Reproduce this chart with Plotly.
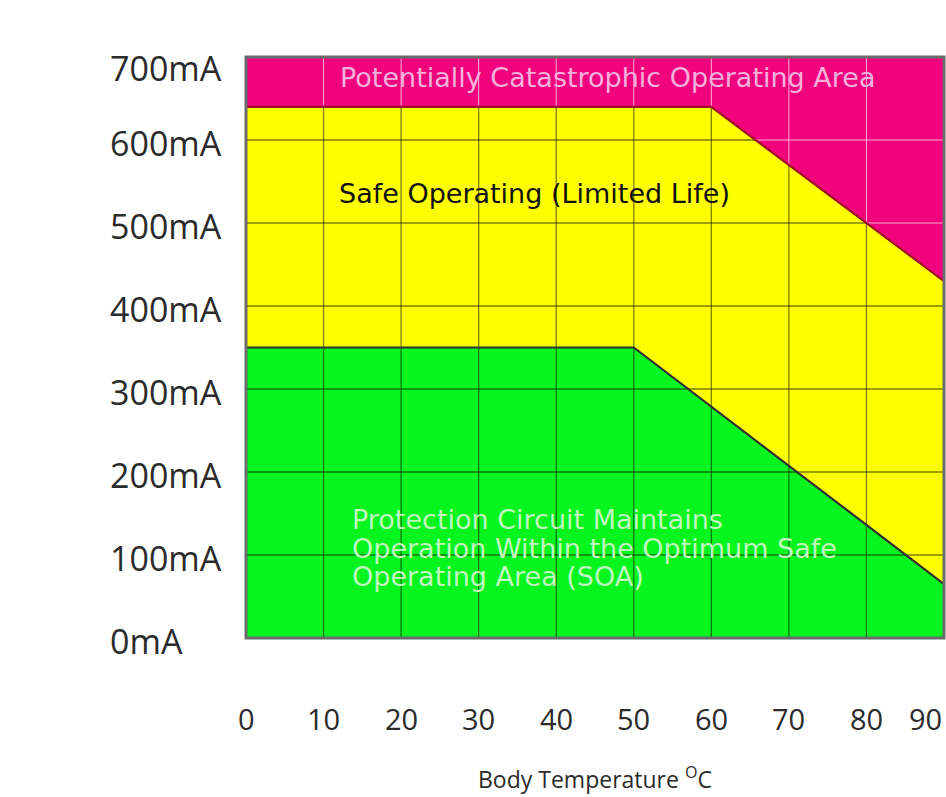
import numpy as np
import plotly.graph_objects as go

# ---------------- data ----------------
x_ticks = [0, 10, 20, 30, 40, 50, 60, 70, 80, 90]
x_tick_labels = ["0", "10", "20", "30", "40", "50", "60", "70", "80", "90"]
y_ticks = [0, 100, 200, 300, 400, 500, 600, 700]
y_tick_labels = ["0mA", "100mA", "200mA", "300mA", "400mA", "500mA", "600mA", "700mA"]

# boundary of the catastrophic (pink) area = top of the plot
catastrophic_x = [0, 90]
catastrophic_y = [700, 700]
# boundary between limited-life (yellow) and catastrophic (pink)
limited_x = [0, 60, 90]
limited_y = [640, 640, 430]
# boundary between optimum SOA (green) and limited-life (yellow)
soa_x = [0, 50, 90]
soa_y = [350, 350, 65]

x_title = "Body Temperature <sup>O</sup>C"
label_catastrophic = "Potentially Catastrophic Operating Area"
label_limited = "Safe Operating (Limited Life)"
label_soa_lines = ["Protection Circuit Maintains",
                   "Operation Within the Optimum Safe",
                   "Operating Area (SOA)"]

# ---------------- styling ----------------
PINK = "#F2037E"
YELLOW = "#FFFF00"
GREEN = "#05F51E"
W, H = 946, 797
L, R, T, B = 246, 2, 57, 159

xmin, xmax = x_ticks[0], x_ticks[-1]
ymin, ymax = y_ticks[0], y_ticks[-1]

fig = go.Figure()

# pink (whole area, later covered by yellow/green)
fig.add_trace(go.Scatter(x=catastrophic_x, y=catastrophic_y, fill="tozeroy",
                         fillcolor=PINK, line=dict(width=0), mode="lines",
                         hoverinfo="skip", showlegend=False))

# light grid lines (visible in pink region)
gx, gy = [], []
for xv in x_ticks[1:-1]:
    gx += [xv, xv, None]
    gy += [ymin, ymax, None]
for yv in y_ticks[1:-1]:
    gx += [xmin, xmax, None]
    gy += [yv, yv, None]
fig.add_trace(go.Scatter(x=gx, y=gy, mode="lines",
                         line=dict(color="rgba(255,190,225,0.9)", width=1),
                         hoverinfo="skip", showlegend=False))

# yellow
fig.add_trace(go.Scatter(x=limited_x, y=limited_y, fill="tozeroy",
                         fillcolor=YELLOW, line=dict(width=0), mode="lines",
                         hoverinfo="skip", showlegend=False))
# green
fig.add_trace(go.Scatter(x=soa_x, y=soa_y, fill="tozeroy",
                         fillcolor=GREEN, line=dict(width=0), mode="lines",
                         hoverinfo="skip", showlegend=False))

# dark grid lines, clipped to the yellow/green part
dx, dy = [], []
for xv in x_ticks[1:-1]:
    top = float(np.interp(xv, limited_x, limited_y))
    dx += [xv, xv, None]
    dy += [ymin, top, None]
rev_y = limited_y[::-1]
rev_x = limited_x[::-1]
for yv in y_ticks[1:-1]:
    if yv <= min(limited_y):
        xe = xmax
    else:
        xe = float(np.interp(yv, rev_y, rev_x))
    dx += [xmin, xe, None]
    dy += [yv, yv, None]
fig.add_trace(go.Scatter(x=dx, y=dy, mode="lines",
                         line=dict(color="rgba(20,20,0,0.55)", width=1.3),
                         hoverinfo="skip", showlegend=False))

# boundary lines
fig.add_trace(go.Scatter(x=limited_x, y=limited_y, mode="lines",
                         line=dict(color="#A0102A", width=2.2),
                         hoverinfo="skip", showlegend=False))
fig.add_trace(go.Scatter(x=soa_x, y=soa_y, mode="lines",
                         line=dict(color="#303030", width=2.2),
                         hoverinfo="skip", showlegend=False))

annotations = []
# y tick labels (left aligned, like the reference)
for v, t in zip(y_ticks, y_tick_labels):
    annotations.append(dict(x=-0.198, xref="paper", y=v, yref="y", text=t,
                            showarrow=False, xanchor="left", yanchor="middle",
                            yshift=-11 if v == ymax else -3,
                            font=dict(family="Open Sans", size=34, color="#2b2b2b")))
# x tick labels
for v, t in zip(x_ticks, x_tick_labels):
    annotations.append(dict(x=v, xref="x", y=-0.138, yref="paper", text=t,
                            showarrow=False,
                            xanchor="right" if v == xmax else "center",
                            yanchor="middle",
                            font=dict(family="Open Sans", size=29, color="#2b2b2b")))
# x title
annotations.append(dict(x=0.5, xref="paper", y=-0.241, yref="paper", text=x_title,
                        showarrow=False, xanchor="center", yanchor="middle",
                        font=dict(family="Open Sans", size=23, color="#2b2b2b")))
# region labels
annotations.append(dict(x=11.9, y=675, xref="x", yref="y", text=label_catastrophic,
                        showarrow=False, xanchor="left", yanchor="middle",
                        font=dict(family="DejaVu Sans", size=27, color="#F7B0DD")))
annotations.append(dict(x=11.7, y=536, xref="x", yref="y", text=label_limited,
                        showarrow=False, xanchor="left", yanchor="middle",
                        font=dict(family="DejaVu Sans", size=27, color="#111111")))
for i, line in enumerate(label_soa_lines):
    annotations.append(dict(x=13.4, y=108, xref="x", yref="y", text=line,
                            showarrow=False, xanchor="left", yanchor="middle",
                            yshift=(1 - i) * 28.5,
                            font=dict(family="DejaVu Sans", size=27, color="#BFF7BF")))

fig.update_layout(
    width=W, height=H,
    margin=dict(l=L, r=R, t=T, b=B, pad=0),
    paper_bgcolor="white", plot_bgcolor="white",
    xaxis=dict(range=[xmin, xmax], showgrid=False, zeroline=False,
               showticklabels=False, ticks="", showline=False, fixedrange=True),
    yaxis=dict(range=[ymin, ymax], showgrid=False, zeroline=False,
               showticklabels=False, ticks="", showline=False, fixedrange=True),
    annotations=annotations,
    shapes=[dict(type="rect", xref="paper", yref="paper", x0=0, y0=0, x1=1, y1=1,
                 line=dict(color="#6a6a6a", width=3), layer="above")],
    showlegend=False,
)

fig.write_html("out.html",
               config={"displayModeBar": False},
               post_script="document.body.style.margin='0px';"
                           "document.body.style.overflow='hidden';")
